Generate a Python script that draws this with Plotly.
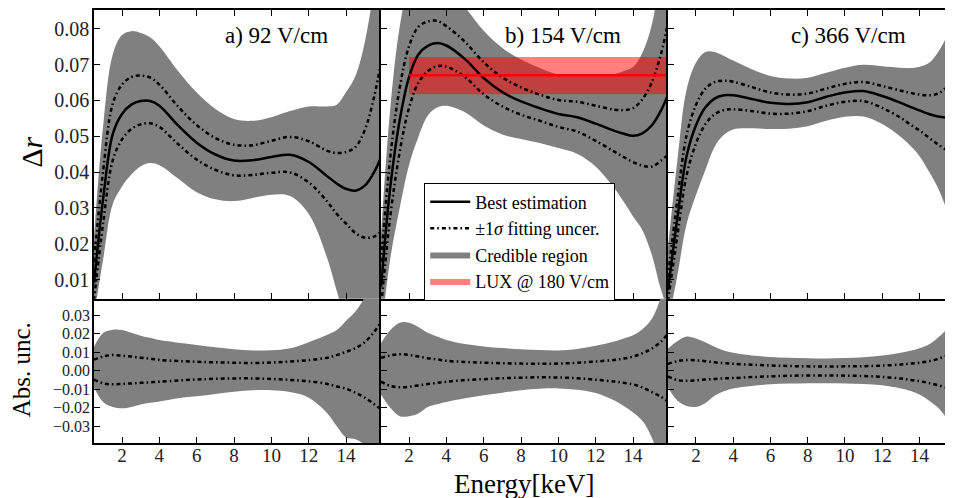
import plotly.graph_objects as go

# ---------------- data ----------------
ENERGY = [0.5, 1.0, 1.5, 2.0, 2.5, 3.0, 3.5, 4.0, 5.0, 6.0, 7.0, 8.0, 9.0, 10.0,
          11.0, 12.0, 13.0, 13.5, 14.0, 14.5, 15.0, 15.5, 15.9]

# panel a) 92 V/cm
BEST_A = [0.009, 0.033, 0.0505, 0.0562, 0.0588, 0.0598, 0.0598, 0.0585, 0.053, 0.0482,
          0.0449, 0.0432, 0.0433, 0.0442, 0.0448, 0.0428, 0.0388, 0.0368, 0.0353, 0.0348,
          0.0362, 0.0400, 0.0445]
FIT_UP_A = [0.006, 0.0078, 0.0085, 0.0082, 0.0077, 0.0071, 0.0066, 0.0059, 0.0053, 0.0049,
            0.0046, 0.0044, 0.0042, 0.0045, 0.0050, 0.0058, 0.0071, 0.0085, 0.0103, 0.0122,
            0.0155, 0.021, 0.027]
FIT_LO_A = [-0.0048, -0.0068, -0.0073, -0.0071, -0.0068, -0.0065, -0.0062, -0.0059, -0.0052,
            -0.0047, -0.0043, -0.0041, -0.0041, -0.0044, -0.0049, -0.0057, -0.0071, -0.0085,
            -0.0097, -0.0118, -0.0145, -0.018, -0.021]
CRED_UP_A = [0.013, 0.0205, 0.0222, 0.022, 0.0205, 0.019, 0.0178, 0.0166, 0.0152, 0.014,
             0.0127, 0.0116, 0.011, 0.0111, 0.0122, 0.0155, 0.0195, 0.022, 0.027, 0.032,
             0.040, 0.052, 0.065]
CRED_LO_A = [-0.009, -0.017, -0.0195, -0.0202, -0.0195, -0.0182, -0.0173, -0.0166, -0.0148,
             -0.0138, -0.0125, -0.0113, -0.0105, -0.0105, -0.0115, -0.0145, -0.023, -0.030,
             -0.036, -0.037, -0.040, -0.045, -0.050]

# panel b) 154 V/cm
BEST_B = [0.008, 0.036, 0.0545, 0.0665, 0.0728, 0.0752, 0.0760, 0.0753, 0.0715, 0.0662,
          0.0623, 0.0597, 0.0578, 0.0562, 0.0553, 0.0535, 0.0515, 0.0507, 0.0501, 0.0508,
          0.0530, 0.0572, 0.0620]
FIT_UP_B = [0.007, 0.0083, 0.009, 0.0086, 0.0077, 0.0068, 0.0062, 0.0054, 0.0048, 0.0044,
            0.0041, 0.0039, 0.0038, 0.0039, 0.0043, 0.005, 0.0059, 0.0066, 0.0077, 0.0095,
            0.012, 0.0158, 0.0205]
FIT_LO_B = [-0.0058, -0.0082, -0.0089, -0.0086, -0.0079, -0.0071, -0.0065, -0.0059, -0.005,
            -0.0045, -0.004, -0.0037, -0.0035, -0.0036, -0.004, -0.0048, -0.0058, -0.0065,
            -0.0073, -0.009, -0.0115, -0.014, -0.017]
CRED_UP_B = [0.015, 0.022, 0.026, 0.026, 0.0237, 0.0205, 0.0185, 0.0167, 0.0145, 0.0132,
             0.0123, 0.0117, 0.0112, 0.011, 0.0118, 0.0135, 0.0158, 0.0175, 0.0192, 0.0225,
             0.028, 0.040, 0.055]
CRED_LO_B = [-0.013, -0.020, -0.0245, -0.0245, -0.023, -0.0195, -0.018, -0.0168, -0.0148,
             -0.0132, -0.0118, -0.0105, -0.0097, -0.0095, -0.0102, -0.012, -0.016, -0.019,
             -0.0225, -0.027, -0.036, -0.050, -0.060]

# panel c) 366 V/cm
BEST_C = [0.007, 0.027, 0.0445, 0.053, 0.058, 0.0605, 0.0614, 0.0614, 0.0604, 0.0593,
          0.059, 0.0595, 0.061, 0.0622, 0.0626, 0.0612, 0.0593, 0.0582, 0.0572, 0.0562,
          0.0555, 0.0552, 0.0552]
FIT_UP_C = [0.0037, 0.0052, 0.0058, 0.0057, 0.0052, 0.0046, 0.0041, 0.0038, 0.0033, 0.0029,
            0.0026, 0.0024, 0.0023, 0.0024, 0.0025, 0.0028, 0.0034, 0.0039, 0.0044, 0.0052,
            0.0064, 0.0085, 0.0095]
FIT_LO_C = [-0.003, -0.005, -0.0054, -0.0051, -0.0047, -0.0044, -0.0041, -0.0039, -0.0034,
            -0.003, -0.0027, -0.0025, -0.0025, -0.0026, -0.0028, -0.0033, -0.0042, -0.0049,
            -0.0056, -0.0066, -0.0078, -0.0092, -0.010]
CRED_UP_C = [0.012, 0.016, 0.0185, 0.0175, 0.0155, 0.013, 0.011, 0.0097, 0.0083, 0.0075,
             0.0071, 0.0068, 0.0067, 0.0069, 0.0073, 0.0083, 0.0098, 0.0108, 0.0122, 0.0142,
             0.018, 0.023, 0.028]
CRED_LO_C = [-0.009, -0.016, -0.019, -0.0195, -0.0175, -0.0135, -0.011, -0.0095, -0.0082,
             -0.0073, -0.0069, -0.0067, -0.0067, -0.0068, -0.0071, -0.0078, -0.0095, -0.0108,
             -0.0128, -0.016, -0.020, -0.026, -0.030]

PANEL_TITLES = ["a) 92 V/cm", "b) 154 V/cm", "c) 366 V/cm"]

# LUX @ 180 V/cm reference band
LUX_E = [2.0, 16.0]
LUX_CENTER = 0.067
LUX_LOW = 0.0617
LUX_HIGH = 0.0721

X_TICKS = [2, 4, 6, 8, 10, 12, 14]
TOP_Y_TICKS = [0.01, 0.02, 0.03, 0.04, 0.05, 0.06, 0.07, 0.08]
BOT_Y_TICKS = [-0.03, -0.02, -0.01, 0.0, 0.01, 0.02, 0.03]

# ---------------- figure ----------------
FONT = "Liberation Serif, Times New Roman, DejaVu Serif, serif"
GREY = "#808080"
DASH = "4px,3px,1.6px,3px"

panels = [
    (BEST_A, FIT_UP_A, FIT_LO_A, CRED_UP_A, CRED_LO_A),
    (BEST_B, FIT_UP_B, FIT_LO_B, CRED_UP_B, CRED_LO_B),
    (BEST_C, FIT_UP_C, FIT_LO_C, CRED_UP_C, CRED_LO_C),
]

fig = go.Figure()
E = ENERGY
Erev = E[::-1]

for i, (best, fu, fl, cu, cl) in enumerate(panels):
    xt = "x" if i == 0 else f"x{i+1}"
    yt = "y" if i == 0 else f"y{i+1}"
    xb = f"x{i+4}"
    yb = f"y{i+4}"
    leg = (i == 1)

    up = [b + u for b, u in zip(best, cu)]
    lo = [b + l for b, l in zip(best, cl)]
    fig.add_trace(go.Scatter(x=E + Erev, y=up + lo[::-1], fill="toself", fillcolor=GREY,
                             line=dict(width=0, shape="spline"), mode="lines",
                             name="Credible region", showlegend=leg, legendrank=3,
                             xaxis=xt, yaxis=yt, hoverinfo="skip"))
    if i == 1:
        fig.add_trace(go.Scatter(x=[LUX_E[0], LUX_E[1], LUX_E[1], LUX_E[0]],
                                 y=[LUX_LOW, LUX_LOW, LUX_HIGH, LUX_HIGH],
                                 fill="toself", fillcolor="rgba(255,0,0,0.5)",
                                 line=dict(width=0), mode="lines",
                                 name="LUX @ 180 V/cm", showlegend=True, legendrank=4,
                                 xaxis=xt, yaxis=yt, hoverinfo="skip"))
    fig.add_trace(go.Scatter(x=E, y=[b + u for b, u in zip(best, fu)], mode="lines",
                             line=dict(color="black", width=2.5, dash=DASH, shape="spline"),
                             name="±1<i>σ</i> fitting uncer.", showlegend=leg, legendrank=2,
                             xaxis=xt, yaxis=yt, hoverinfo="skip"))
    fig.add_trace(go.Scatter(x=E, y=[b + l for b, l in zip(best, fl)], mode="lines",
                             line=dict(color="black", width=2.5, dash=DASH, shape="spline"),
                             showlegend=False, xaxis=xt, yaxis=yt, hoverinfo="skip"))
    fig.add_trace(go.Scatter(x=E, y=best, mode="lines",
                             line=dict(color="black", width=2.5, shape="spline"),
                             name="Best estimation", showlegend=leg, legendrank=1,
                             xaxis=xt, yaxis=yt, hoverinfo="skip"))
    if i == 1:
        fig.add_trace(go.Scatter(x=LUX_E, y=[LUX_CENTER, LUX_CENTER], mode="lines",
                                 line=dict(color="red", width=2.5), showlegend=False,
                                 xaxis=xt, yaxis=yt, hoverinfo="skip"))

    fig.add_trace(go.Scatter(x=E + Erev, y=list(cu) + list(cl)[::-1], fill="toself",
                             fillcolor=GREY, line=dict(width=0, shape="spline"), mode="lines",
                             showlegend=False, xaxis=xb, yaxis=yb, hoverinfo="skip"))
    for arr in (fu, fl):
        fig.add_trace(go.Scatter(x=E, y=arr, mode="lines",
                                 line=dict(color="black", width=2.5, dash=DASH, shape="spline"),
                                 showlegend=False, xaxis=xb, yaxis=yb, hoverinfo="skip"))

# ---------------- layout ----------------
# The page body has an 8px margin, so the figure is drawn 8px right/down.
OFF = 8
W, H = 953 - OFF, 498 - OFF
ML, MR, MT, MB = 94 - OFF, 0, 9 - OFF, 55
PW = W - ML - MR
PH = H - MT - MB

col_px = [(94, 381.7), (381.7, 669.3), (669.3, 953)]   # reference pixels
x_ranges = [[0.5, 15.87], [0.5, 15.87], [0.5, 15.69]]


def px_to_paper(px, py):
    return (px - OFF - ML) / PW, 1 - (py - OFF - MT) / PH


split = px_to_paper(0, 298.3)[1]

axis_common = dict(showline=True, linecolor="black", linewidth=1.5,
                   ticks="inside", ticklen=6, tickwidth=1.2, tickcolor="black",
                   showgrid=False, zeroline=False,
                   tickfont=dict(family=FONT, size=20, color="#222"))

layout = dict(width=W, height=H, margin=dict(l=ML, r=MR, t=MT, b=MB),
              plot_bgcolor="white", paper_bgcolor="white",
              font=dict(family=FONT, color="black"))

for i in range(3):
    d0 = px_to_paper(col_px[i][0], 0)[0]
    d1 = min(1.0, px_to_paper(col_px[i][1], 0)[0])
    kt = "" if i == 0 else str(i + 1)
    kb = str(i + 4)
    layout["xaxis" + kt] = dict(axis_common, domain=[d0, d1], range=x_ranges[i],
                                tickvals=X_TICKS, showticklabels=False, mirror="ticks",
                                anchor="y" + kt)
    layout["yaxis" + kt] = dict(axis_common, domain=[split, 1], range=[0.0047, 0.0852],
                                tickvals=TOP_Y_TICKS, tickformat=".2f",
                                mirror=("ticks" if i == 2 else False),
                                ticklabelstandoff=-1,
                                showticklabels=(i == 0), anchor="x" + kt)
    layout["xaxis" + kb] = dict(axis_common, domain=[d0, d1], range=x_ranges[i],
                                tickvals=X_TICKS, showticklabels=True, mirror=False,
                                ticklabelstandoff=-6,
                                tickfont=dict(family=FONT, size=19, color="#222"),
                                anchor="y" + kb)
    layout["yaxis" + kb] = dict(axis_common, domain=[0, split], range=[-0.039, 0.039],
                                tickvals=BOT_Y_TICKS, tickformat=".2f",
                                mirror=("ticks" if i == 2 else False),
                                ticklabelstandoff=-1,
                                tickfont=dict(family=FONT, size=16, color="#222"),
                                showticklabels=(i == 0), anchor="x" + kb)

fig.update_layout(**layout)

annos = []
for txt, (cx, cy) in zip(PANEL_TITLES, [(277, 35), (564, 35), (850, 35)]):
    ax, ay = px_to_paper(cx, cy)
    annos.append(dict(text=txt, x=ax, y=ay, xref="paper", yref="paper", showarrow=False,
                      xanchor="center", yanchor="middle",
                      font=dict(family=FONT, size=23, color="black")))

ax, ay = px_to_paper(32, 152)
annos.append(dict(text="Δ<i>r</i>", x=ax, y=ay, xref="paper", yref="paper", showarrow=False,
                  textangle=-90, xanchor="center", yanchor="middle",
                  font=dict(family=FONT, size=30, color="black")))
ax, ay = px_to_paper(21, 370)
annos.append(dict(text="Abs. unc.", x=ax, y=ay, xref="paper", yref="paper", showarrow=False,
                  textangle=-90, xanchor="center", yanchor="middle",
                  font=dict(family=FONT, size=25, color="black")))
ax, ay = px_to_paper(525, 484)
annos.append(dict(text="Energy[keV]", x=ax, y=ay, xref="paper", yref="paper", showarrow=False,
                  xanchor="center", yanchor="middle",
                  font=dict(family=FONT, size=27, color="black")))

lx, ly = px_to_paper(425, 182)
fig.update_layout(
    annotations=annos,
    legend=dict(x=lx, y=ly, xanchor="left", yanchor="top", bgcolor="white",
                bordercolor="black", borderwidth=1, itemwidth=40, tracegroupgap=0,
                font=dict(family=FONT, size=18, color="black")),
)

fig.write_html("out.html")
